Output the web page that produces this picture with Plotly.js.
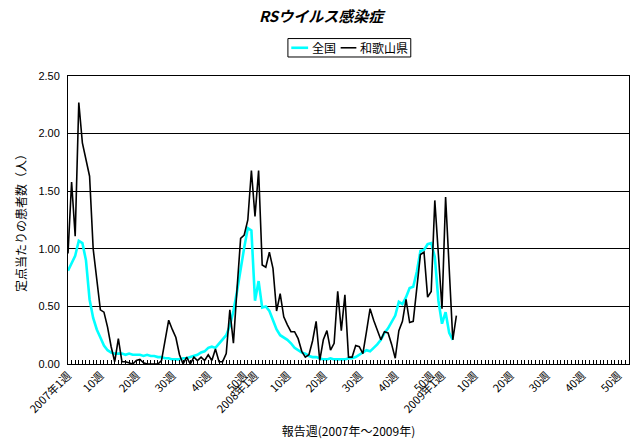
<!DOCTYPE html>
<html>
<head>
<meta charset="utf-8">
<script src="https://cdn.plot.ly/plotly-3.0.1.min.js"></script>
<style>
html,body{margin:0;padding:0;background:#fff;}
#chart{width:632px;height:441px;}
</style>
</head>
<body>
<div id="chart"></div>
<script>
// Years and number of report weeks per year on the category axis
const years = [2007, 2008, 2009];
const weeksPerYear = [52, 52, 53];
const labelWeeks = [1, 10, 20, 30, 40, 50];

// Series names
const seriesNames = ['全国', '和歌山県'];

// 全国 (national), per sentinel site, 2007 week 1 onward
const zenkoku = [
  0.81, 0.87, 0.94, 1.07, 1.05, 0.90, 0.56, 0.40, 0.30, 0.23,
  0.16, 0.12, 0.10, 0.09, 0.09, 0.09, 0.08, 0.09, 0.08, 0.08,
  0.08, 0.07, 0.08, 0.07, 0.07, 0.06, 0.06, 0.05, 0.05, 0.04,
  0.04, 0.04, 0.05, 0.05, 0.06, 0.07, 0.08, 0.10, 0.11, 0.14,
  0.15, 0.14, 0.18, 0.21, 0.25, 0.33, 0.46, 0.63, 0.83, 1.01,
  1.18, 1.16, 0.55, 0.72, 0.49, 0.50, 0.46, 0.38, 0.30, 0.25,
  0.23, 0.21, 0.18, 0.14, 0.12, 0.10, 0.09, 0.07, 0.06, 0.06,
  0.05, 0.04, 0.04, 0.05, 0.04, 0.04, 0.04, 0.04, 0.05, 0.05,
  0.06, 0.08, 0.10, 0.12, 0.11, 0.14, 0.17, 0.21, 0.27, 0.31,
  0.37, 0.42, 0.54, 0.52, 0.58, 0.66, 0.67, 0.80, 0.98, 0.99,
  1.04, 1.05, 0.93, 0.55, 0.35, 0.45, 0.27, 0.21
];

// 和歌山県 (Wakayama), per sentinel site, 2007 week 1 onward
const wakayama = [
  0.96, 1.58, 1.11, 2.27, 1.92, 1.78, 1.63, 1.00, 0.72, 0.47,
  0.45, 0.32, 0.15, 0.02, 0.22, 0.02, 0.02, 0.01, 0.00, 0.03,
  0.04, 0.01, 0.00, 0.00, 0.00, 0.00, 0.03, 0.20, 0.38, 0.30,
  0.23, 0.08, 0.00, 0.06, 0.00, 0.06, 0.03, 0.06, 0.03, 0.08,
  0.03, 0.13, 0.02, 0.02, 0.09, 0.47, 0.18, 0.65, 1.09, 1.12,
  1.25, 1.68, 1.28, 1.68, 0.86, 0.84, 0.97, 0.83, 0.46, 0.61,
  0.41, 0.34, 0.28, 0.28, 0.22, 0.11, 0.06, 0.08, 0.20, 0.37,
  0.03, 0.21, 0.29, 0.12, 0.18, 0.63, 0.29, 0.60, 0.06, 0.06,
  0.16, 0.15, 0.09, 0.28, 0.48, 0.38, 0.29, 0.21, 0.28, 0.27,
  0.17, 0.05, 0.29, 0.37, 0.56, 0.36, 0.37, 0.65, 0.95, 0.97,
  0.58, 0.63, 1.42, 0.95, 0.48, 1.45, 0.83, 0.21, 0.42
];

// Build the category list (one per report week)
const categories = [];
const tickVals = [];
const tickText = [];
years.forEach((yr, k) => {
  for (let w = 1; w <= weeksPerYear[k]; w++) {
    const idx = categories.length;
    categories.push(yr + '年' + w + '週');
    if (labelWeeks.indexOf(w) >= 0) {
      tickVals.push(idx);
      tickText.push(w === 1 ? yr + '年1週' : w + '週');
    }
  }
});
const idxOf = arr => arr.map((_, i) => i);

const FONT = '"Liberation Sans", "Noto Sans CJK JP", sans-serif';
const JFONT = '"Noto Sans CJK JP", "Liberation Sans", sans-serif';
const COLORS = ['#00FFFF', '#000000'];

const traces = [
  {
    x: idxOf(zenkoku), y: zenkoku, name: seriesNames[0], type: 'scatter', mode: 'lines',
    line: {color: COLORS[0], width: 2.6},
    text: categories.slice(0, zenkoku.length), hoverinfo: 'text+y+name'
  },
  {
    x: idxOf(wakayama), y: wakayama, name: seriesNames[1], type: 'scatter', mode: 'lines',
    line: {color: COLORS[1], width: 1.6},
    text: categories.slice(0, wakayama.length), hoverinfo: 'text+y+name'
  }
];

// Compact legend box (drawn in paper coordinates)
const legendShapes = [
  {type: 'rect', xref: 'paper', yref: 'paper', x0: 0.392, x1: 0.611, y0: 1.066, y1: 1.130,
   line: {color: '#000', width: 1}, fillcolor: '#fff', layer: 'above'},
  {type: 'line', xref: 'paper', yref: 'paper', x0: 0.398, x1: 0.428, y0: 1.098, y1: 1.098,
   line: {color: COLORS[0], width: 2.6}},
  {type: 'line', xref: 'paper', yref: 'paper', x0: 0.486, x1: 0.514, y0: 1.098, y1: 1.098,
   line: {color: COLORS[1], width: 1.6}}
];
const legendText = [
  {xref: 'paper', yref: 'paper', x: 0.431, y: 1.098, xanchor: 'left', yanchor: 'middle',
   text: seriesNames[0], showarrow: false, font: {family: JFONT, size: 12, color: '#000'}},
  {xref: 'paper', yref: 'paper', x: 0.517, y: 1.098, xanchor: 'left', yanchor: 'middle',
   text: seriesNames[1], showarrow: false, font: {family: JFONT, size: 12, color: '#000'}}
];

const layout = {
  width: 632, height: 441,
  margin: {l: 68, r: 3, t: 76, b: 77},
  paper_bgcolor: '#ffffff', plot_bgcolor: '#ffffff',
  font: {family: FONT, color: '#000', size: 11},
  title: {
    text: '<b><i>RSウイルス感染症</i></b>',
    font: {family: JFONT, size: 15, color: '#000'},
    x: 0.508, xanchor: 'center', y: 0.962, yanchor: 'middle'
  },
  showlegend: false,
  shapes: legendShapes,
  annotations: legendText,
  xaxis: {
    range: [0, categories.length - 1],
    tickmode: 'array', tickvals: tickVals, ticktext: tickText,
    tickangle: -45, tickfont: {family: JFONT, size: 11, color: '#000'},
    ticks: 'inside', ticklen: 4, tickcolor: '#000',
    minor: {ticks: 'inside', ticklen: 4, tickcolor: '#000', tickmode: 'linear', tick0: 0, dtick: 1, showgrid: false},
    showline: true, linecolor: '#000', linewidth: 1, mirror: true,
    showgrid: false, zeroline: false,
    title: {text: '報告週(2007年～2009年)', font: {family: JFONT, size: 12, color: '#000'}, standoff: 12},
    fixedrange: true
  },
  yaxis: {
    range: [0, 2.5], dtick: 0.5, tick0: 0, tickformat: '.2f',
    tickfont: {family: FONT, size: 11, color: '#000'},
    ticks: '', ticklabelstandoff: 5,
    showline: true, linecolor: '#000', linewidth: 1, mirror: true,
    showgrid: true, gridcolor: '#000', gridwidth: 1, zeroline: false,
    title: {text: '定点当たりの患者数（人）', font: {family: JFONT, size: 12, color: '#000'}, standoff: 9},
    fixedrange: true
  }
};

Plotly.newPlot('chart', traces, layout, {staticPlot: true, displayModeBar: false});
</script>
</body>
</html>
